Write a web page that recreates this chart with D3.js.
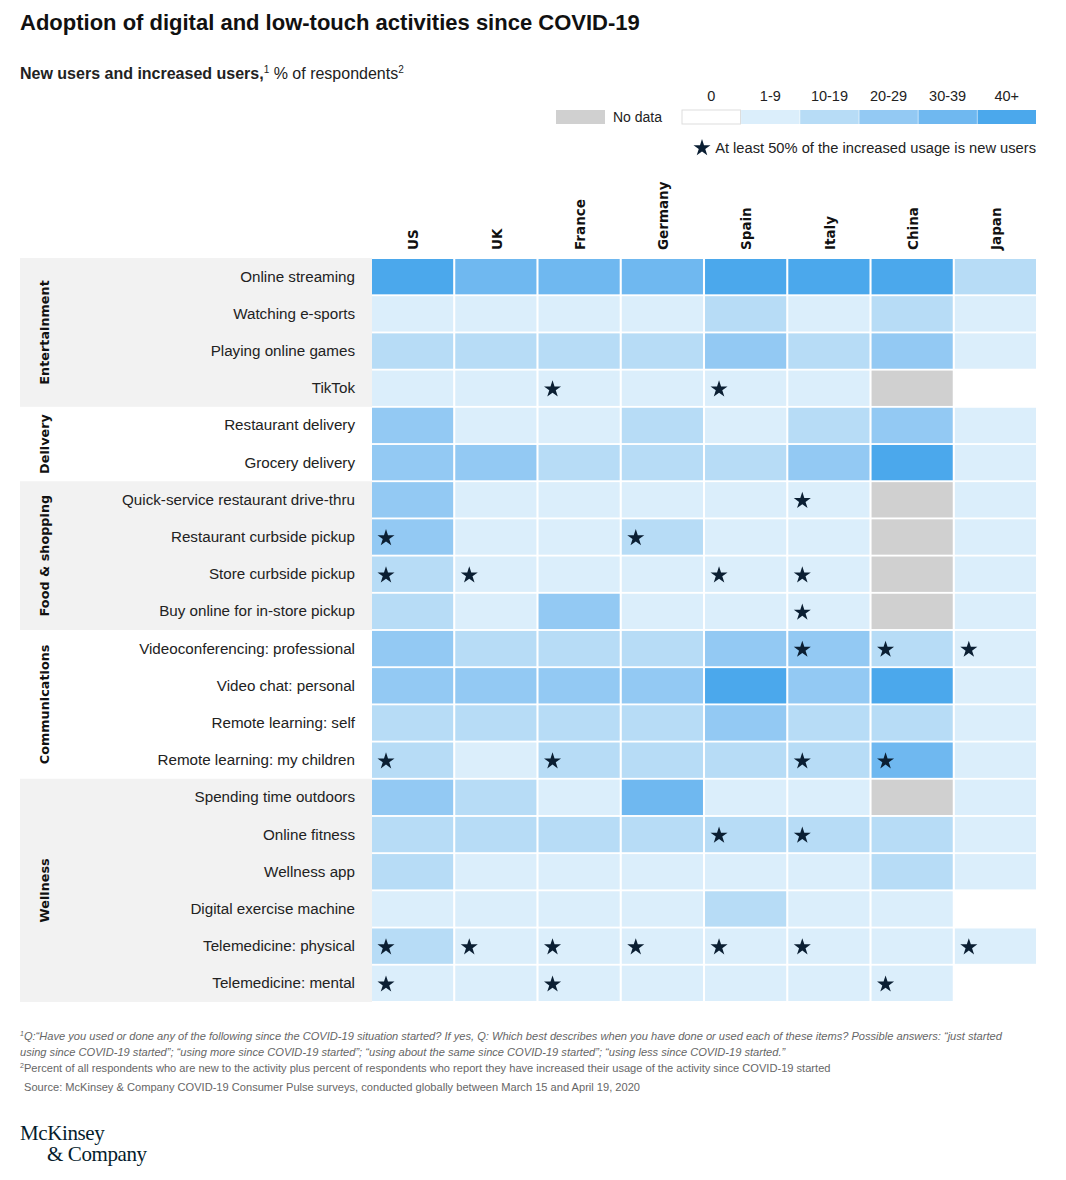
<!DOCTYPE html>
<html>
<head>
<meta charset="utf-8">
<script src="https://cdn.jsdelivr.net/npm/d3@7"></script>
<style>
  body { margin: 0; background: #fff; }
  svg { display: block; }
</style>
</head>
<body>
<svg id="chart" width="1066" height="1180"></svg>
<script>
// adoption heatmap, McKinsey consumer pulse
const width = 1066;
const height = 1180;
const sans = "'Liberation Sans', Arial, sans-serif";
const wide = "'DejaVu Sans', Verdana, sans-serif";

const countries = ["US", "UK", "France", "Germany", "Spain", "Italy", "China", "Japan"];
const buckets = ["0", "1-9", "10-19", "20-29", "30-39", "40+"];
const bucketColors = ["#ffffff", "#dbeefb", "#b7dcf6", "#93c9f3", "#6fb8f0", "#4ba8ec"];
const noDataColor = "#d0d0d0";

const groups = [
    { name: "Entertainment", size: 4 },
    { name: "Delivery", size: 2 },
    { name: "Food & shopping", size: 4 },
    { name: "Communications", size: 4 },
    { name: "Wellness", size: 6 },
];

const activities = [
    "Online streaming", "Watching e-sports", "Playing online games", "TikTok",
    "Restaurant delivery", "Grocery delivery",
    "Quick-service restaurant drive-thru", "Restaurant curbside pickup",
    "Store curbside pickup", "Buy online for in-store pickup",
    "Videoconferencing: professional", "Video chat: personal",
    "Remote learning: self", "Remote learning: my children",
    "Spending time outdoors", "Online fitness", "Wellness app",
    "Digital exercise machine", "Telemedicine: physical", "Telemedicine: mental",
];

// bucket index per country (US..Japan), null = no data
const values = [
    [5, 4, 4, 4, 5, 5, 5, 2],
    [1, 1, 1, 1, 2, 1, 2, 1],
    [2, 2, 2, 2, 3, 2, 3, 1],
    [1, 1, 1, 1, 1, 1, null, 0],
    [3, 1, 1, 2, 1, 2, 3, 1],
    [3, 3, 2, 2, 2, 3, 5, 1],
    [3, 1, 1, 1, 1, 1, null, 1],
    [3, 1, 1, 2, 1, 1, null, 1],
    [2, 1, 1, 1, 1, 1, null, 1],
    [2, 1, 3, 1, 1, 1, null, 1],
    [3, 2, 2, 2, 3, 3, 2, 1],
    [3, 3, 3, 3, 5, 3, 5, 1],
    [2, 2, 2, 2, 3, 2, 2, 1],
    [2, 1, 2, 2, 2, 2, 4, 1],
    [3, 2, 1, 4, 1, 1, null, 1],
    [2, 2, 2, 2, 2, 2, 2, 1],
    [2, 1, 1, 1, 1, 1, 2, 1],
    [1, 1, 1, 1, 2, 1, 1, 0],
    [2, 1, 1, 1, 1, 1, 1, 1],
    [1, 1, 1, 1, 1, 1, 1, 0],
];

// countries where at least 50% of the increase is new users
const stars = [
    [], [], [], ["France", "Spain"],
    [], [],
    ["Italy"], ["US", "Germany"], ["US", "UK", "Spain", "Italy"], ["Italy"],
    ["Italy", "China", "Japan"], [], [], ["US", "France", "Italy", "China"],
    [], ["Spain", "Italy"], [], [],
    ["US", "UK", "France", "Germany", "Spain", "Italy", "Japan"], ["US", "France", "China"],
];

const svg = d3.select("#chart");

const x = d3.scaleBand().domain(countries).range([372, 1036]).paddingInner(0.025);
const y = d3.scaleBand().domain(activities).range([259, 1001]).paddingInner(0.05);
const color = d3.scaleOrdinal().domain(d3.range(buckets.length)).range(bucketColors);
const step = y.step();

// title + subtitle
svg.append("text")
    .attr("x", 20).attr("y", 30)
    .attr("font-family", sans).attr("font-size", 22).attr("font-weight", 700)
    .attr("fill", "#111")
    .text("Adoption of digital and low-touch activities since COVID-19");

const sub = svg.append("text")
    .attr("x", 20).attr("y", 79)
    .attr("font-family", sans).attr("font-size", 16).attr("fill", "#222");
sub.append("tspan").attr("font-weight", 700).text("New users and increased users,");
sub.append("tspan").attr("font-size", 10).attr("dy", -6).text("1");
sub.append("tspan").attr("dy", 6).text(" % of respondents");
sub.append("tspan").attr("font-size", 10).attr("dy", -6).text("2");

// legend
const lx = d3.scaleBand().domain(buckets).range([682, 1036]).paddingInner(0.01);
const legend = svg.append("g");
legend.selectAll("rect.bucket")
    .data(buckets)
    .join("rect")
    .attr("class", "bucket")
    .attr("x", d => lx(d)).attr("y", 110)
    .attr("width", lx.bandwidth()).attr("height", 14)
    .attr("fill", (d, i) => bucketColors[i])
    .attr("stroke", (d, i) => i === 0 ? "#dddddd" : "none");
legend.selectAll("text.bucket")
    .data(buckets)
    .join("text")
    .attr("class", "bucket")
    .attr("x", d => lx(d) + lx.bandwidth() / 2).attr("y", 101)
    .attr("text-anchor", "middle")
    .attr("font-family", sans).attr("font-size", 14.5).attr("fill", "#222")
    .text(d => d);
legend.append("rect")
    .attr("x", 556).attr("y", 110).attr("width", 49).attr("height", 14)
    .attr("fill", noDataColor);
legend.append("text")
    .attr("x", 613).attr("y", 122)
    .attr("font-family", sans).attr("font-size", 14).attr("fill", "#222")
    .text("No data");

const star = d3.symbol().type(d3.symbolStar).size(90);
legend.append("path")
    .attr("d", star())
    .attr("transform", "translate(702,148)")
    .attr("fill", "#0b1f33");
legend.append("text")
    .attr("x", 1036).attr("y", 153)
    .attr("text-anchor", "end")
    .attr("font-family", sans).attr("font-size", 14.7).attr("fill", "#222")
    .text("At least 50% of the increased usage is new users");

// group bands
let start = 0;
const groupRows = groups.map(g => {
    const r = { ...g, first: start, last: start + g.size - 1 };
    start += g.size;
    return r;
});

const bands = svg.append("g");
bands.selectAll("rect")
    .data(groupRows.filter((g, i) => i % 2 === 0))
    .join("rect")
    .attr("x", 20)
    .attr("y", d => y(activities[d.first]) - step * 0.025)
    .attr("width", 352)
    .attr("height", d => y(activities[d.last]) + y.bandwidth() - y(activities[d.first]) + step * 0.05)
    .attr("fill", "#f2f2f2");

bands.selectAll("text")
    .data(groupRows)
    .join("text")
    .attr("transform", d => {
        const cy = (y(activities[d.first]) + y(activities[d.last]) + y.bandwidth()) / 2;
        return `translate(49,${cy}) rotate(-90)`;
    })
    .attr("text-anchor", "middle")
    .attr("font-family", wide).attr("font-size", 12.8).attr("font-weight", 700)
    .attr("fill", "#111")
    .text(d => d.name);

// row labels
svg.append("g").selectAll("text")
    .data(activities)
    .join("text")
    .attr("x", 355)
    .attr("y", d => y(d) + y.bandwidth() / 2 + 5)
    .attr("text-anchor", "end")
    .attr("font-family", sans).attr("font-size", 15.2).attr("fill", "#222")
    .text(d => d);

// column headers
svg.append("g").selectAll("text")
    .data(countries)
    .join("text")
    .attr("transform", d => `translate(${x(d) + x.bandwidth() / 2 + 1},250) rotate(-90)`)
    .attr("dy", "0.35em")
    .attr("font-family", wide).attr("font-size", 13.5).attr("font-weight", 700)
    .attr("fill", "#111")
    .text(d => d);

// cells
const cells = [];
activities.forEach((a, i) => {
    countries.forEach((c, j) => {
        cells.push({ activity: a, country: c, v: values[i][j], star: stars[i].includes(c) });
    });
});

const grid = svg.append("g");
grid.selectAll("rect")
    .data(cells)
    .join("rect")
    .attr("x", d => x(d.country))
    .attr("y", d => y(d.activity))
    .attr("width", x.bandwidth())
    .attr("height", y.bandwidth())
    .attr("fill", d => d.v === null ? noDataColor : color(d.v));

grid.selectAll("path")
    .data(cells.filter(d => d.star))
    .join("path")
    .attr("d", star())
    .attr("transform", d => `translate(${x(d.country) + 14},${y(d.activity) + y.bandwidth() / 2 + 1})`)
    .attr("fill", "#0b1f33");

// footnotes
const notes = svg.append("g")
    .attr("font-family", sans).attr("font-size", 11.1).attr("fill", "#666");
const n1 = notes.append("text").attr("x", 20).attr("y", 1040).attr("font-style", "italic");
n1.append("tspan").attr("font-size", 7).attr("dy", -4).text("1");
n1.append("tspan").attr("dy", 4)
    .text("Q:\u201cHave you used or done any of the following since the COVID-19 situation started? If yes, Q: Which best describes when you have done or used each of these items? Possible answers: \u201cjust started");
notes.append("text").attr("x", 20).attr("y", 1056).attr("font-style", "italic")
    .text("using since COVID-19 started\u201d; \u201cusing more since COVID-19 started\u201d; \u201cusing about the same since COVID-19 started\u201d; \u201cusing less since COVID-19 started.\u201d");
const n2 = notes.append("text").attr("x", 20).attr("y", 1072);
n2.append("tspan").attr("font-size", 7).attr("dy", -4).text("2");
n2.append("tspan").attr("dy", 4)
    .text("Percent of all respondents who are new to the activity plus percent of respondents who report they have increased their usage of the activity since COVID-19 started");
notes.append("text").attr("x", 24).attr("y", 1091)
    .text("Source: McKinsey & Company COVID-19 Consumer Pulse surveys, conducted globally between March 15 and April 19, 2020");

// logo
const logo = svg.append("g")
    .attr("font-family", "'Liberation Serif', 'DejaVu Serif', serif")
    .attr("font-size", 21).attr("fill", "#051c2c").attr("letter-spacing", -0.4);
logo.append("text").attr("x", 20).attr("y", 1140).text("McKinsey");
logo.append("text").attr("x", 47).attr("y", 1161).text("& Company");
</script>
</body>
</html>
